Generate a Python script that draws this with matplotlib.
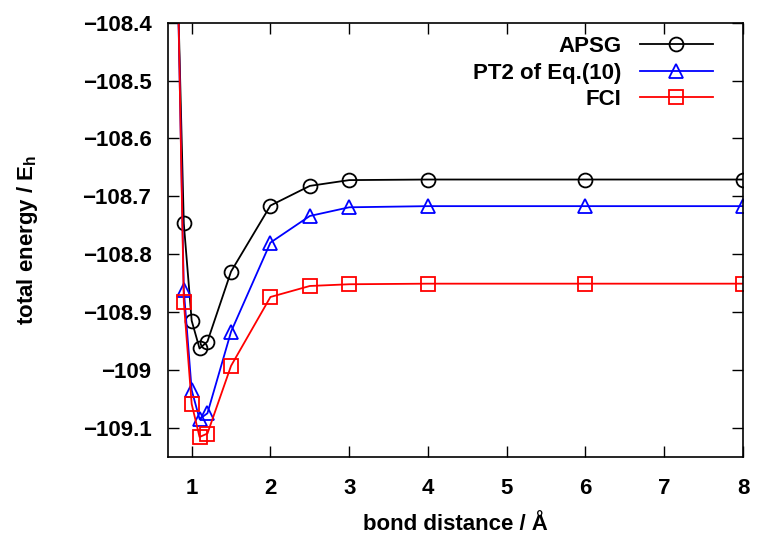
import numpy as np
import matplotlib
matplotlib.use("Agg")
import matplotlib.pyplot as plt
from matplotlib.ticker import FixedLocator

plt.rcParams['font.family'] = ['Liberation Sans Narrow', 'Liberation Sans', 'DejaVu Sans']
plt.rcParams['font.weight'] = 'bold'
plt.rcParams['mathtext.fontset'] = 'custom'
plt.rcParams['mathtext.rm'] = 'Liberation Sans:bold'
plt.rcParams['mathtext.bf'] = 'Liberation Sans:bold'
plt.rcParams['mathtext.default'] = 'bf'

# bond distances (angstrom)
r = [0.8, 0.9, 1.0, 1.1, 1.2, 1.5, 2.0, 2.5, 3.0, 4.0, 6.0, 8.0]

# total energies (hartree)
apsg = [-108.21, -108.747, -108.915, -108.963, -108.951, -108.830, -108.716,
        -108.682, -108.672, -108.671, -108.671, -108.671]
pt2 = [-108.17, -108.862, -109.035, -109.085, -109.075, -108.934, -108.780,
       -108.734, -108.719, -108.717, -108.717, -108.717]
fci = [-108.15, -108.882, -109.059, -109.116, -109.110, -108.993, -108.874,
       -108.855, -108.852, -108.851, -108.851, -108.851]

labels = ['APSG', 'PT2 of Eq.(10)', 'FCI']

fig = plt.figure(figsize=(7.57, 5.36), dpi=100)
ax = fig.add_axes([0.222, 0.148, 0.7595, 0.8096])

ax.plot(r, apsg, '-o', color='black', lw=1.3, ms=10, mfc='none', mew=1.3, label=labels[0])
ax.plot(r, pt2, '-^', color='blue', lw=1.3, ms=10, mfc='none', mew=1.3, label=labels[1])
ax.plot(r, fci, '-s', color='red', lw=1.3, ms=10, mfc='none', mew=1.3, label=labels[2])

ax.set_xlim(0.7, 8)
ax.set_ylim(-109.15, -108.4)

yt = [-109.1, -109.0, -108.9, -108.8, -108.7, -108.6, -108.5, -108.4]
ax.yaxis.set_major_locator(FixedLocator(yt))
ax.set_yticklabels(['\u2212109.1', '\u2212109', '\u2212108.9', '\u2212108.8',
                    '\u2212108.7', '\u2212108.6', '\u2212108.5', '\u2212108.4'])
ax.set_xticks(range(1, 9))

ax.tick_params(direction='in', length=8, width=1, top=True, right=True, labelsize=16)
ax.tick_params(axis='x', pad=15)
ax.tick_params(axis='y', pad=12)
for s in ax.spines.values():
    s.set_linewidth(1.2)

ax.set_xlabel('bond distance / \u00c5', fontsize=16, fontweight='bold')
ax.xaxis.set_label_coords(0.5, -0.133)
ax.set_ylabel(r'total energy / E$_\mathbf{h}$', fontsize=16, fontweight='bold')
ax.yaxis.set_label_coords(-0.223, 0.5)

leg = ax.legend(loc='upper right', frameon=False, markerfirst=False, fontsize=16,
                handlelength=3.3, handletextpad=0.8, labelspacing=0.25,
                borderaxespad=0, bbox_to_anchor=(0.963, 0.99))

fig.savefig('out.png', dpi=100)
